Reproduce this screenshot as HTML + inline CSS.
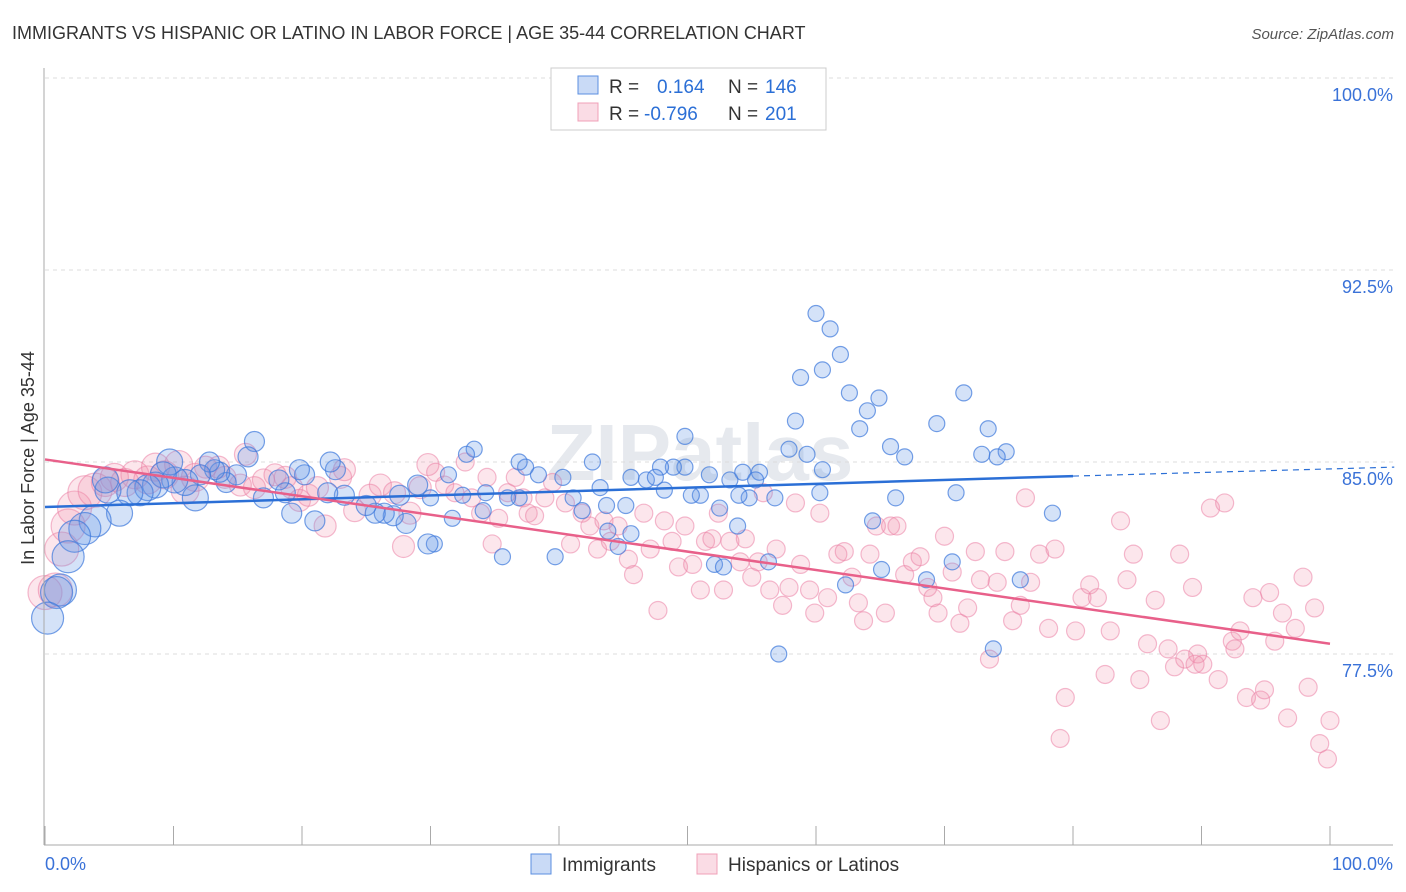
<!DOCTYPE html>
<html><head><meta charset="utf-8"><style>
body{margin:0;background:#fff;font-family:"Liberation Sans",sans-serif;}
#wrap{position:relative;width:1406px;height:892px;overflow:hidden;}
</style></head><body>
<div id="wrap">
<svg id="chart" width="1406" height="892">
<text x="12" y="39" font-size="18" fill="#333">IMMIGRANTS VS HISPANIC OR LATINO IN LABOR FORCE | AGE 35-44 CORRELATION CHART</text>
<text x="1394" y="39" font-size="15" fill="#555" font-style="italic" text-anchor="end">Source: ZipAtlas.com</text>
<text x="700" y="480" font-size="80" fill="#e6e9ee" text-anchor="middle" font-weight="bold">ZIPatlas</text>
<g id="grid"></g><g id="pinkpts"></g><g id="bluepts"></g><g id="lines"></g><g id="axes"></g>
<text transform="translate(34,458) rotate(-90)" font-size="18" fill="#333" text-anchor="middle">In Labor Force | Age 35-44</text>
<g>
<rect x="551" y="68" width="275" height="62" fill="#fff" stroke="#ccc"/>
<rect x="578" y="76" width="20" height="18" fill="rgba(100,150,230,0.35)" stroke="#5b8fe0"/>
<rect x="578" y="103" width="20" height="18" fill="rgba(240,140,170,0.3)" stroke="#f0a0b8"/>
<text x="609" y="93" font-size="19" fill="#333">R =</text><text x="657" y="93" font-size="19" fill="#2b6fd6">0.164</text>
<text x="728" y="93" font-size="19" fill="#333">N =</text><text x="765" y="93" font-size="19" fill="#2b6fd6">146</text>
<text x="609" y="120" font-size="19" fill="#333">R =</text><text x="644" y="120" font-size="19" fill="#2b6fd6">-0.796</text>
<text x="728" y="120" font-size="19" fill="#333">N =</text><text x="765" y="120" font-size="19" fill="#2b6fd6">201</text>
</g>
<g><rect x="531" y="854" width="20" height="20" fill="rgba(100,150,230,0.35)" stroke="#5b8fe0"/><text x="562" y="871" font-size="19" fill="#333">Immigrants</text></g>
<g><rect x="697" y="854" width="20" height="20" fill="rgba(240,140,170,0.3)" stroke="#f0a0b8"/><text x="728" y="871" font-size="19" fill="#333">Hispanics or Latinos</text></g>
</svg></div>
<script>
const yTicks=[100,92.5,85,77.5];
const yTickLabels=["100.0%","92.5%","85.0%","77.5%"];
const xTicks=[0,10,20,30,40,50,60,70,80,90,100];
const blueX=[60.0,61.1,61.9,58.8,60.5,62.6,64.9,64.0,63.4,58.4,49.8,57.9,59.3,66.9,69.4,71.5,73.4,72.9,74.8,74.1,78.4,75.9,73.8,57.1,70.9,66.2,64.4,65.1,62.3,68.6,70.6,60.3,56.8,55.6,54.8,54.0,53.9,52.5,53.3,54.3,51.7,51.0,50.3,49.8,48.9,47.9,48.2,46.8,47.5,45.2,45.6,44.6,45.6,43.8,42.6,43.2,43.7,41.1,41.8,40.3,39.7,38.4,37.4,36.9,36.9,36.0,35.6,34.3,34.1,33.4,32.8,32.5,31.4,31.7,30.3,29.8,30.0,29.0,27.6,28.1,27.1,26.4,25.7,25.0,22.6,22.2,23.3,22.0,21.0,20.2,19.8,19.2,18.7,18.2,17.0,16.3,15.8,14.9,14.1,13.6,13.2,12.8,12.1,11.7,10.9,10.1,9.7,9.2,8.6,8.0,7.4,6.6,5.8,4.9,3.9,3.1,2.3,1.8,1.2,0.9,0.2,4.7,65.8,52.1,56.3,52.8,60.5,55.3];
const blueY=[90.8,90.2,89.2,88.3,88.6,87.7,87.5,87.0,86.3,86.6,86.0,85.5,85.3,85.2,86.5,87.7,86.3,85.3,85.4,85.2,83.0,80.4,77.7,77.5,83.8,83.6,82.7,80.8,80.2,80.4,81.1,83.8,83.6,84.6,83.6,83.7,82.5,83.2,84.3,84.6,84.5,83.7,83.7,84.8,84.8,84.8,83.9,84.3,84.4,83.3,84.4,81.7,82.2,82.3,85.0,84.0,83.3,83.6,83.1,84.4,81.3,84.5,84.8,85.0,83.6,83.6,81.3,83.8,83.1,85.5,85.3,83.7,84.5,82.8,81.8,81.8,83.6,84.1,83.7,82.6,82.9,83.0,83.0,83.3,84.7,85.0,83.7,83.8,82.7,84.5,84.7,83.0,83.8,84.3,83.6,85.8,85.2,84.5,84.2,84.6,84.7,85.0,84.5,83.6,84.2,84.3,85.0,84.5,84.1,84.0,83.8,83.8,83.0,83.9,82.7,82.4,82.1,81.3,80.0,79.9,78.9,84.3,85.6,81.0,81.1,80.9,84.7,84.3];
const pinkX=[0.0,0.8,1.3,1.8,2.3,3.1,3.9,4.7,5.4,6.2,7.0,8.0,8.6,9.3,10.4,10.9,11.7,12.5,13.5,14.0,15.2,15.6,16.3,17.0,17.9,18.7,19.2,19.8,20.5,21.2,21.8,23.0,23.3,24.1,25.3,26.1,27.2,27.9,28.4,29.2,29.8,30.4,31.1,31.9,32.7,33.2,33.9,34.4,34.8,35.3,36.0,36.6,37.2,37.6,38.1,38.9,39.5,40.5,40.9,41.8,42.4,43.0,43.5,44.0,44.6,45.4,45.8,46.6,47.1,47.7,48.2,48.8,49.3,49.8,50.4,51.0,51.4,51.9,52.4,52.8,53.3,54.1,54.5,55.0,55.5,55.9,56.4,56.9,57.4,57.9,58.4,58.8,59.5,59.9,60.3,60.9,61.7,62.2,62.8,63.3,63.7,64.2,64.7,65.4,65.8,66.3,66.9,67.5,68.1,68.7,69.1,69.5,70.0,70.6,71.2,71.8,72.4,72.8,73.5,74.1,74.7,75.3,75.9,76.3,76.7,77.4,78.1,78.6,79.0,79.4,80.2,80.7,81.3,81.9,82.5,82.9,83.7,84.2,84.7,85.2,85.8,86.4,86.8,87.4,87.9,88.3,88.7,89.3,89.7,90.1,90.7,91.3,91.8,92.4,93.0,93.5,94.0,94.6,94.9,95.3,95.7,96.3,96.7,97.3,97.9,98.3,98.8,99.2,99.8,100.0,92.6,89.5];
const pinkY=[79.9,80.0,81.6,82.5,83.2,83.8,83.9,84.2,84.4,84.2,84.5,84.3,84.8,84.5,84.9,83.9,84.4,84.8,84.8,84.4,84.1,85.3,84.0,84.3,84.5,84.4,84.0,83.5,83.7,84.0,82.5,84.4,84.7,83.1,83.7,84.1,83.8,81.7,83.0,84.0,84.9,84.6,84.1,83.8,85.0,83.6,83.0,84.4,81.8,82.8,83.8,84.4,83.6,83.0,82.9,83.6,84.2,83.4,81.8,83.0,82.5,81.6,82.7,81.9,82.5,81.2,80.6,83.0,81.6,79.2,82.7,81.9,80.9,82.5,81.0,80.0,81.9,82.0,83.0,80.0,81.9,81.1,82.0,80.5,81.1,83.8,80.0,81.6,79.4,80.1,83.4,81.0,80.0,79.1,83.0,79.7,81.4,81.5,80.5,79.5,78.8,81.4,82.5,79.1,82.5,82.5,80.6,81.1,81.3,80.1,79.7,79.1,82.1,80.7,78.7,79.3,81.5,80.4,77.3,80.3,81.5,78.8,79.4,83.6,80.3,81.4,78.5,81.6,74.2,75.8,78.4,79.7,80.2,79.7,76.7,78.4,82.7,80.4,81.4,76.5,77.9,79.6,74.9,77.7,77.0,81.4,77.3,80.1,77.5,77.1,83.2,76.5,83.4,78.0,78.4,75.8,79.7,75.7,76.1,79.9,78.0,79.1,75.0,78.5,80.5,76.2,79.3,74.0,73.4,74.9,77.7,77.1];
const blueTrendX=[0,80,105];
const blueTrendY=[83.24,84.45,84.8];
const pinkTrendX=[0,100];
const pinkTrendY=[85.1,77.9];

const NS="http://www.w3.org/2000/svg";
function xs(p){return 45+p*12.85;}
function ys(v){return 462-(v-85)*25.6;}
function mk(tag,attrs,parent){const e=document.createElementNS(NS,tag);for(const k in attrs)e.setAttribute(k,attrs[k]);parent.appendChild(e);return e;}
const grid=document.getElementById('grid'),axes=document.getElementById('axes');
yTicks.forEach((t,i)=>{
 const l=mk('line',{x1:45,x2:1393,y1:ys(t),y2:ys(t),stroke:'#dcdcdc','stroke-dasharray':'4,4'},grid);
 
 
 const tx=mk('text',{x:1393,y:ys(t)+23,'font-size':18,fill:'#3a72d8','text-anchor':'end'},axes);
 tx.textContent=yTickLabels[i];
 
 
});
const ax=mk('line',{x1:44,x2:44,y1:68,y2:845,stroke:'#aaa'},axes);


const bx=mk('line',{x1:44,x2:1393,y1:845,y2:845,stroke:'#aaa'},axes);


xTicks.forEach(t=>{
 const l=mk('line',{x1:xs(t),x2:xs(t),y1:826,y2:845,stroke:'#aaa'},axes);
 
 
});
const xl0=mk('text',{x:45,y:870,'font-size':18,fill:'#3a72d8'},axes);xl0.textContent='0.0%';


const xl1=mk('text',{x:1393,y:870,'font-size':18,fill:'#3a72d8','text-anchor':'end'},axes);xl1.textContent='100.0%';


function rad(p){return p<4?17:p<12?14:p<30?11:9;}
const pg=document.getElementById('pinkpts');
pinkX.forEach((p,i)=>{
 const c=mk('circle',{cx:xs(p),cy:ys(pinkY[i]),r:rad(p),fill:'rgba(240,140,170,0.22)',stroke:'rgba(235,130,165,0.55)','stroke-width':1.2},pg);
 
 
});
const bg=document.getElementById('bluepts');
blueX.forEach((p,i)=>{
 const c=mk('circle',{cx:xs(p),cy:ys(blueY[i]),r:rad(p)-1,fill:'rgba(100,150,230,0.28)',stroke:'rgba(60,120,220,0.7)','stroke-width':1.2},bg);
 
 
});
const lg=document.getElementById('lines');
const b1=mk('line',{x1:xs(blueTrendX[0]),y1:ys(blueTrendY[0]),x2:xs(blueTrendX[1]),y2:ys(blueTrendY[1]),stroke:'#2b6fd6','stroke-width':2.5},lg);


const b2=mk('line',{x1:xs(blueTrendX[1]),y1:ys(blueTrendY[1]),x2:xs(blueTrendX[2]),y2:ys(blueTrendY[2]),stroke:'#2b6fd6','stroke-width':1.2,'stroke-dasharray':'6,5'},lg);


const p1=mk('line',{x1:xs(pinkTrendX[0]),y1:ys(pinkTrendY[0]),x2:xs(pinkTrendX[1]),y2:ys(pinkTrendY[1]),stroke:'#e8608a','stroke-width':2.5},lg);


</script>
</body></html>
